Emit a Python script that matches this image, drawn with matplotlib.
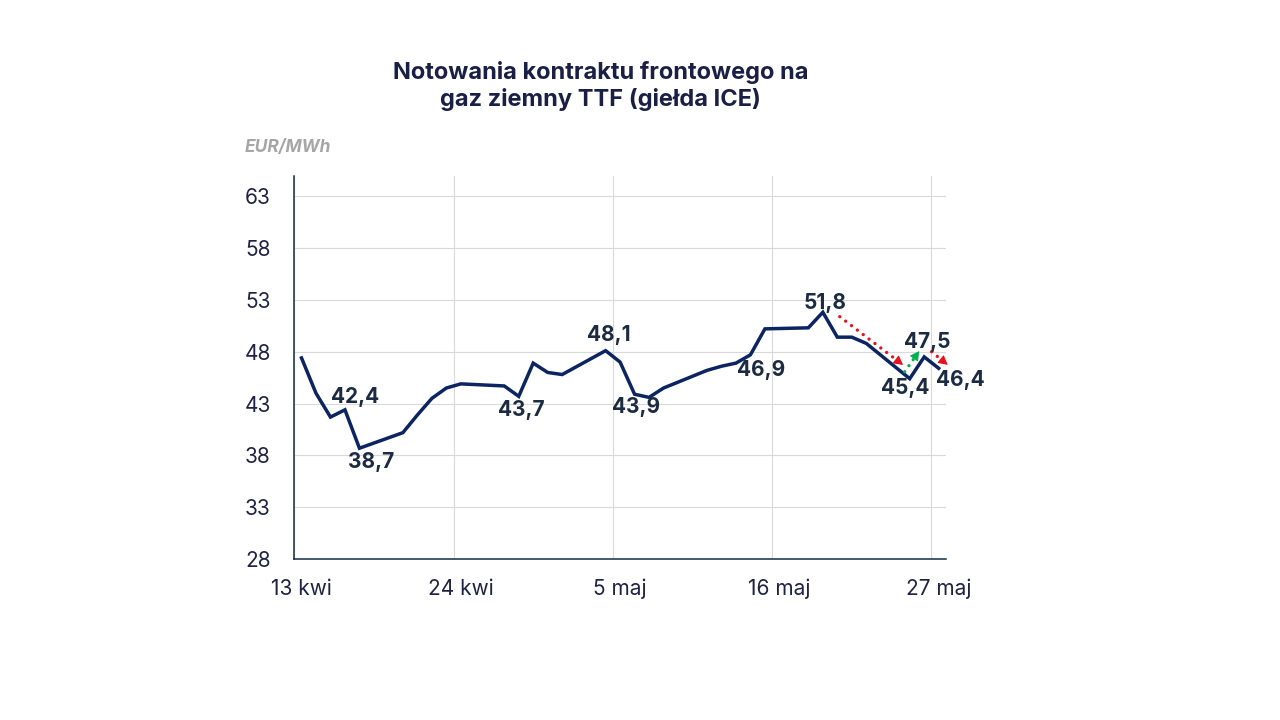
import matplotlib
matplotlib.use("Agg")
import matplotlib.pyplot as plt
import matplotlib.dates as mdates
from matplotlib.ticker import FuncFormatter
import numpy as np
import pandas as pd

plt.rcParams['font.family'] = ['Inter', 'DejaVu Sans']

# notowania (dni sesyjne)
dates = pd.to_datetime([
    "2026-04-13", "2026-04-14", "2026-04-15", "2026-04-16", "2026-04-17",
    "2026-04-20", "2026-04-21", "2026-04-22", "2026-04-23", "2026-04-24",
    "2026-04-27", "2026-04-28", "2026-04-29", "2026-04-30", "2026-05-01",
    "2026-05-04", "2026-05-05", "2026-05-06", "2026-05-07", "2026-05-08",
    "2026-05-11", "2026-05-12", "2026-05-13", "2026-05-14", "2026-05-15",
    "2026-05-18", "2026-05-19", "2026-05-20", "2026-05-21", "2026-05-22",
    "2026-05-25", "2026-05-26", "2026-05-27",
])
prices = [
    47.4, 44.0, 41.7, 42.4, 38.7,
    40.2, 41.9, 43.5, 44.5, 44.9,
    44.7, 43.7, 46.9, 46.0, 45.8,
    48.1, 47.0, 43.9, 43.6, 44.5,
    46.2, 46.6, 46.9, 47.7, 50.2,
    50.3, 51.8, 49.4, 49.4, 48.8,
    45.4, 47.5, 46.4,
]

# etykiety danych: data -> przesuniecie (pt)
label_dates = pd.to_datetime(["2026-04-16", "2026-04-17", "2026-04-28", "2026-05-04",
                              "2026-05-06", "2026-05-13", "2026-05-19", "2026-05-25",
                              "2026-05-26", "2026-05-27"])
label_offsets = [(7.2, 9.4), (8.3, -10.1), (1.9, -9.9), (2.3, 11.3), (1.4, -9.1),
                 (17.8, -5.0), (1.3, 6.7), (-3.6, -6.7), (1.9, 10.4), (15.8, -8.1)]

# strzalki trendu: od, do
arrow_from = pd.to_datetime(["2026-05-19", "2026-05-25", "2026-05-26"])
arrow_to = pd.to_datetime(["2026-05-25", "2026-05-26", "2026-05-27"])
arrow_colors = ["#e8101a", "#00b050", "#e8101a"]
arrow_start_off = [(12.2, -3.2), (-3.6, 5.0), (5.3, 3.7)]
arrow_end_off = [(-4.8, 9.9), (-3.6, 4.2), (6.5, 2.5)]

tick_dates = pd.date_range("2026-04-13", periods=5, freq="11D")
y_ticks = list(range(28, 64, 5))
pl_months = {4: "kwi", 5: "maj"}

navy = "#0c2461"
label_col = "#1c2b42"
text_col = "#1f2244"

x = mdates.date2num(dates + pd.Timedelta(hours=12))
price_at = dict(zip(dates, prices))
xi = dict(zip(dates, x))

fig = plt.figure(figsize=(12.8, 7.2), dpi=100)
ax = fig.add_axes([0.2299, 0.2232, 0.5091, 0.5324])

ax.plot(x, prices, color=navy, lw=2.5, solid_joinstyle='miter', zorder=3)

ax.set_xlim(mdates.date2num(tick_dates[0]), mdates.date2num(pd.Timestamp("2026-05-28")))
ax.set_ylim(28, 64.93)
ax.set_yticks(y_ticks)
ax.set_xticks(mdates.date2num(tick_dates + pd.Timedelta(hours=12)))
ax.set_xticks(mdates.date2num(tick_dates), minor=True)
ax.xaxis.set_major_formatter(FuncFormatter(
    lambda v, pos: f"{mdates.num2date(v).day} {pl_months[mdates.num2date(v).month]}"))

for d, (dx, dy) in zip(label_dates, label_offsets):
    v = price_at[d]
    ax.annotate(f"{v:.1f}".replace(".", ","), (xi[d], v), xytext=(dx, dy),
                textcoords='offset points', ha='center', va='center',
                fontsize=15, fontweight='bold', color=label_col, zorder=5,
                annotation_clip=False)

# strzalki: kropkowany trzon + pelny grot (przesuniete wzgledem linii)
to_px = ax.transData.transform
to_data = ax.transData.inverted().transform
pt = fig.dpi / 72
for d0, d1, c, so, eo in zip(arrow_from, arrow_to, arrow_colors, arrow_start_off, arrow_end_off):
    p0 = to_px((xi[d0], price_at[d0])) + np.array(so) * pt
    p1 = to_px((xi[d1], price_at[d1])) + np.array(eo) * pt
    u = (p1 - p0) / np.hypot(*(p1 - p0))
    shaft = to_data(np.array([p0, p1 - 5 * u]))
    ax.plot(shaft[:, 0], shaft[:, 1], color=c, lw=2.4, linestyle=(0, (0.01, 2.2)),
            dash_capstyle='round', zorder=4, clip_on=False)
    back, tip = to_data(np.array([p1 - 7 * u, p1]))
    ax.annotate('', xy=tip, xytext=back, annotation_clip=False,
                arrowprops=dict(arrowstyle='-|>,head_length=0.55,head_width=0.3',
                                color=c, lw=0.8, shrinkA=0, shrinkB=0, mutation_scale=10),
                zorder=4)

ax.grid(False)
ax.xaxis.grid(True, which='minor', color='#d9d9d9', lw=0.8)
ax.yaxis.grid(True, which='major', color='#d9d9d9', lw=0.8)
ax.set_axisbelow(True)

ax.tick_params(axis='both', which='both', length=0, labelsize=15, labelcolor=text_col)
ax.tick_params(axis='y', pad=17)
ax.tick_params(axis='x', pad=14)

for s in ['top', 'right']:
    ax.spines[s].set_visible(False)
for s in ['left', 'bottom']:
    ax.spines[s].set_color('#142a4a')
    ax.spines[s].set_linewidth(1.1)

fig.text(0.4691, 0.8806, "Notowania kontraktu frontowego na\ngaz ziemny TTF (giełda ICE)",
         ha='center', va='center', fontsize=17, fontweight='bold', color='#1a1f45',
         linespacing=1.27)
fig.text(245 / 1280, 1 - 148 / 720, "EUR/MWh", ha='left', va='center', fontsize=12.5,
         fontweight='bold', fontstyle='italic', color='#a6a6a6')

fig.savefig("out.png", dpi=100)
